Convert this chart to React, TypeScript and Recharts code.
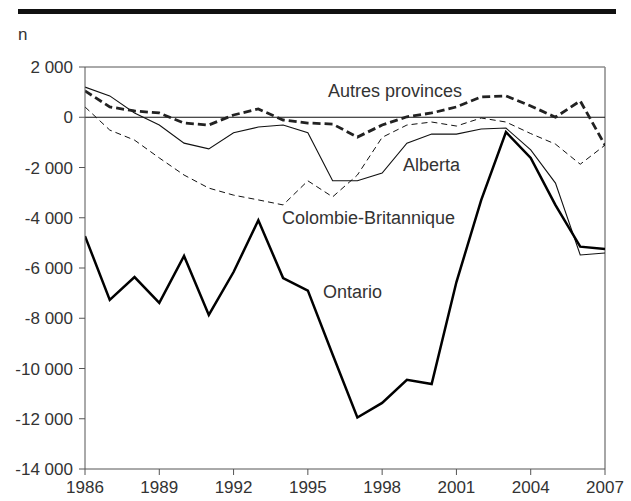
import React from 'react';
import { LineChart, Line, XAxis, YAxis, ReferenceLine } from 'recharts';

const years = [1986, 1987, 1988, 1989, 1990, 1991, 1992, 1993, 1994, 1995, 1996, 1997, 1998, 1999, 2000, 2001, 2002, 2003, 2004, 2005, 2006, 2007];
const ontario = [-4730, -7270, -6360, -7390, -5520, -7870, -6160, -4100, -6400, -6900, -9440, -11950, -11370, -10450, -10620, -6560, -3300, -590, -1620, -3500, -5150, -5240];
const alberta = [1200, 850, 170, -310, -1030, -1260, -620, -390, -310, -620, -2530, -2530, -2220, -1030, -670, -670, -470, -430, -1300, -2620, -5480, -5400];
const autres = [1050, 410, 250, 170, -230, -310, 90, 330, -110, -230, -270, -790, -310, 20, 170, 410, 810, 850, 450, 0, 650, -1110];
const colombie = [410, -510, -910, -1620, -2300, -2820, -3100, -3290, -3490, -2530, -3170, -2300, -800, -310, -190, -350, -30, -190, -650, -1070, -1870, -1110];

const xTicks = [1986, 1989, 1992, 1995, 1998, 2001, 2004, 2007];
const yTicks = [2000, 0, -2000, -4000, -6000, -8000, -10000, -12000, -14000];

const data = years.map((y, i) => ({
  year: y,
  ontario: ontario[i],
  alberta: alberta[i],
  autres: autres[i],
  colombie: colombie[i],
}));

const fmt = (v: number) => {
  const s = Math.abs(v).toString();
  const grouped = s.length > 3 ? s.slice(0, s.length - 3) + ' ' + s.slice(s.length - 3) : s;
  return (v < 0 ? '-' : '') + grouped;
};

const FONT = '"Liberation Sans", Arial, Helvetica, sans-serif';
const tickStyle = { fontSize: 17, fill: '#333', fontFamily: FONT };

const labelStyle: React.CSSProperties = {
  position: 'absolute',
  fontFamily: FONT,
  fontSize: 18,
  color: '#333',
  whiteSpace: 'nowrap',
  lineHeight: '20px',
};

export default function App() {
  return (
    <div style={{ position: 'absolute', left: 0, top: 0, width: 631, height: 501, background: '#fff' }}>
      <div style={{ position: 'absolute', left: 18, top: 9, width: 598, height: 5, background: '#111' }} />
      <div style={{ ...labelStyle, left: 18, top: 25, fontSize: 17 }}>n</div>
      <LineChart
        width={631}
        height={501}
        data={data}
        margin={{ top: 67, right: 26, bottom: 0, left: 0 }}
      >
        <XAxis
          dataKey="year"
          type="number"
          domain={[1986, 2007]}
          ticks={xTicks}
          interval={0}
          height={32}
          tickSize={6}
          tickMargin={6}
          stroke="#555"
          tick={tickStyle}
          allowDataOverflow
        />
        <YAxis
          type="number"
          domain={[-14000, 2000]}
          ticks={yTicks}
          interval={0}
          width={85}
          tickSize={6}
          tickMargin={6}
          stroke="#555"
          tick={tickStyle}
          tickFormatter={fmt}
          allowDataOverflow
        />
        <ReferenceLine y={2000} stroke="#555" strokeWidth={1} />
        <ReferenceLine x={2007} stroke="#888" strokeWidth={1.5} />
        <ReferenceLine y={0} stroke="#111" strokeWidth={1} />
        <Line dataKey="colombie" stroke="#111" strokeWidth={1} strokeDasharray="6 4" dot={false} isAnimationActive={false} />
        <Line dataKey="alberta" stroke="#111" strokeWidth={1.1} dot={false} isAnimationActive={false} />
        <Line dataKey="autres" stroke="#222" strokeWidth={2.8} strokeDasharray="8 4" dot={false} isAnimationActive={false} />
        <Line dataKey="ontario" stroke="#000" strokeWidth={2.5} dot={false} isAnimationActive={false} />
      </LineChart>
      <div style={{ ...labelStyle, left: 328, top: 81 }}>Autres provinces</div>
      <div style={{ ...labelStyle, left: 403, top: 155 }}>Alberta</div>
      <div style={{ ...labelStyle, left: 282, top: 208 }}>Colombie-Britannique</div>
      <div style={{ ...labelStyle, left: 323, top: 282 }}>Ontario</div>
    </div>
  );
}
